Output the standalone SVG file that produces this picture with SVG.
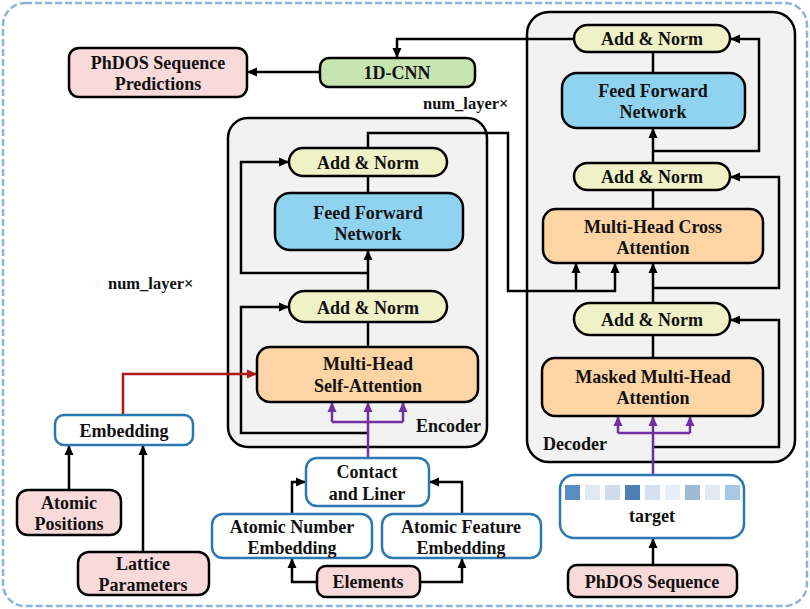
<svg xmlns="http://www.w3.org/2000/svg" width="810" height="609" viewBox="0 0 810 609">
<defs>
<marker id="ab" markerUnits="userSpaceOnUse" markerWidth="10" markerHeight="10" refX="10" refY="5" orient="auto"><path d="M0,0.5 L10,5 L0,9.5 z" fill="#000"/></marker>
<marker id="ap" markerUnits="userSpaceOnUse" markerWidth="10" markerHeight="10" refX="10" refY="5" orient="auto"><path d="M0,0.5 L10,5 L0,9.5 z" fill="#7030a0"/></marker>
<marker id="ar" markerUnits="userSpaceOnUse" markerWidth="10" markerHeight="10" refX="10" refY="5" orient="auto"><path d="M0,0.5 L10,5 L0,9.5 z" fill="#b01818"/></marker>
</defs>
<style>
text{font-family:'Liberation Serif','Times New Roman',serif;font-weight:bold;font-size:18px;fill:#111;text-anchor:middle}
.lbl{text-anchor:start}
.nl{text-anchor:start;font-size:16.5px}
.pink{fill:#f9dada;stroke:#000;stroke-width:2.5}
.green{fill:#c6e5b0;stroke:#000;stroke-width:2.5}
.yel{fill:#eff2c7;stroke:#000;stroke-width:2.5}
.blue{fill:#8fd3f0;stroke:#000;stroke-width:2.5}
.org{fill:#fdd4a4;stroke:#000;stroke-width:2.5}
.emb{fill:#fff;stroke:#2a78b0;stroke-width:2.5}
.cont{fill:#f2f2f2;stroke:#000;stroke-width:2.5}
.c{fill:none;stroke:#000;stroke-width:2.5}
.cp{fill:none;stroke:#7030a0;stroke-width:2.5}
.cr{fill:none;stroke:#b01818;stroke-width:2.5}
</style>
<rect x="3" y="3" width="804" height="603" rx="22" fill="#fff" stroke="#8db3d8" stroke-width="2.5" stroke-dasharray="7,3"/>
<g id="encoder-box"><rect class="cont" x="228" y="118" width="259" height="329" rx="20"/><text class="lbl" x="416" y="432">Encoder</text></g>
<g id="decoder-box"><rect class="cont" x="527" y="12" width="268" height="450" rx="22"/><text class="lbl" x="543" y="450">Decoder</text></g>
<text class="nl" x="423" y="109">num_layer×</text>
<text class="nl" x="108" y="289">num_layer×</text>
<g id="connectors">
<path class="c" d="M320,72 H247" marker-end="url(#ab)"/>
<path class="c" d="M574,39 H397 V58" marker-end="url(#ab)"/>
<path class="c" d="M368,176 V193"/>
<path class="c" d="M368,291 V250" marker-end="url(#ab)"/>
<path class="c" d="M368,273 H241 V162 H289" marker-end="url(#ab)"/>
<path class="c" d="M368,347 V322"/>
<path class="c" d="M368,433 H241 V307 H289" marker-end="url(#ab)"/>
<path class="c" d="M368,148 V133 H508 V291 H615 V263" marker-end="url(#ab)"/>
<path class="c" d="M576,291 V263" marker-end="url(#ab)"/>
<path class="c" d="M653,52 V73"/>
<path class="c" d="M653,163 V128" marker-end="url(#ab)"/>
<path class="c" d="M653,151 H759 V39 H730" marker-end="url(#ab)"/>
<path class="c" d="M653,190 V209"/>
<path class="c" d="M653,303 V263" marker-end="url(#ab)"/>
<path class="c" d="M653,288 H779 V177 H730" marker-end="url(#ab)"/>
<path class="c" d="M653,335 V358"/>
<path class="c" d="M653,447 H779 V320 H730" marker-end="url(#ab)"/>
<path class="cp" d="M653,475 V433"/>
<path class="cp" d="M618,433 H690"/>
<path class="cp" d="M618,433 V416" marker-end="url(#ap)"/>
<path class="cp" d="M653,433 V416" marker-end="url(#ap)"/>
<path class="cp" d="M690,433 V416" marker-end="url(#ap)"/>
<path class="cp" d="M368,458 V422"/>
<path class="cp" d="M332,422 H403"/>
<path class="cp" d="M332,422 V402" marker-end="url(#ap)"/>
<path class="cp" d="M368,422 V402" marker-end="url(#ap)"/>
<path class="cp" d="M403,422 V402" marker-end="url(#ap)"/>
<path class="cr" d="M123,415 V374 H257" marker-end="url(#ar)"/>
<path class="c" d="M69,490 V445" marker-end="url(#ab)"/>
<path class="c" d="M143,552 V445" marker-end="url(#ab)"/>
<path class="c" d="M292,514 V482 H306" marker-end="url(#ab)"/>
<path class="c" d="M462,514 V482 H429" marker-end="url(#ab)"/>
<path class="c" d="M317,582 H292 V558" marker-end="url(#ab)"/>
<path class="c" d="M420,582 H462 V558" marker-end="url(#ab)"/>
<path class="c" d="M653,565 V538" marker-end="url(#ab)"/>
</g>
<g id="predictions"><rect class="pink" x="69" y="48" width="178" height="49" rx="10"/><text x="158" y="69">PhDOS Sequence</text><text x="158" y="90">Predictions</text></g>
<g id="cnn"><rect class="green" x="320" y="58" width="155" height="29" rx="9"/><text x="397" y="79">1D-CNN</text></g>
<g id="enc-addnorm2"><rect class="yel" x="289" y="148" width="158" height="28" rx="14"/><text x="368" y="169">Add &amp; Norm</text></g>
<g id="enc-ffn"><rect class="blue" x="275" y="193" width="188" height="57" rx="15"/><text x="368" y="219">Feed Forward</text><text x="368" y="240">Network</text></g>
<g id="enc-addnorm1"><rect class="yel" x="289" y="291" width="158" height="31" rx="15.5"/><text x="368" y="314">Add &amp; Norm</text></g>
<g id="enc-mhsa"><rect class="org" x="257" y="347" width="221" height="55" rx="13"/><text x="368" y="370">Multi-Head</text><text x="368" y="392">Self-Attention</text></g>
<g id="dec-addnorm3"><rect class="yel" x="574" y="25" width="156" height="27" rx="13.5"/><text x="652" y="45">Add &amp; Norm</text></g>
<g id="dec-ffn"><rect class="blue" x="562" y="73" width="183" height="55" rx="15"/><text x="653" y="97">Feed Forward</text><text x="653" y="118">Network</text></g>
<g id="dec-addnorm2"><rect class="yel" x="574" y="163" width="156" height="27" rx="13.5"/><text x="652" y="183">Add &amp; Norm</text></g>
<g id="dec-cross"><rect class="org" x="543" y="209" width="220" height="54" rx="13"/><text x="653" y="233">Multi-Head Cross</text><text x="653" y="254">Attention</text></g>
<g id="dec-addnorm1"><rect class="yel" x="574" y="303" width="156" height="32" rx="16"/><text x="652" y="326">Add &amp; Norm</text></g>
<g id="dec-masked"><rect class="org" x="542" y="358" width="221" height="58" rx="13"/><text x="653" y="383">Masked Multi-Head</text><text x="653" y="404">Attention</text></g>
<g id="embedding"><rect class="emb" x="55" y="415" width="138" height="30" rx="9"/><text x="124" y="437">Embedding</text></g>
<g id="atomic-positions"><rect class="pink" x="17" y="490" width="104" height="45" rx="11"/><text x="69" y="509">Atomic</text><text x="69" y="530">Positions</text></g>
<g id="lattice"><rect class="pink" x="78" y="552" width="131" height="43" rx="11"/><text x="143" y="570">Lattice</text><text x="143" y="591">Parameters</text></g>
<g id="contact"><rect class="emb" x="306" y="458" width="123" height="48" rx="11"/><text x="367" y="478">Contact</text><text x="367" y="500">and Liner</text></g>
<g id="atomic-number"><rect class="emb" x="212" y="514" width="160" height="44" rx="11"/><text x="292" y="533">Atomic Number</text><text x="292" y="554">Embedding</text></g>
<g id="atomic-feature"><rect class="emb" x="382" y="514" width="159" height="44" rx="11"/><text x="461" y="533">Atomic Feature</text><text x="461" y="554">Embedding</text></g>
<g id="elements"><rect class="pink" x="317" y="566" width="103" height="31" rx="9"/><text x="368" y="588">Elements</text></g>
<g id="target"><rect class="emb" x="560" y="475" width="184" height="63" rx="14"/>
<rect x="565" y="485" width="15" height="15" fill="#5b8ec0"/><rect x="585" y="485" width="15" height="15" fill="#e0e8f2"/><rect x="605" y="485" width="15" height="15" fill="#d0dcea"/><rect x="625" y="485" width="15" height="15" fill="#4e80b4"/><rect x="645" y="485" width="15" height="15" fill="#d4e0ee"/><rect x="665" y="485" width="15" height="15" fill="#e8eef6"/><rect x="685" y="485" width="15" height="15" fill="#9fb8d4"/><rect x="705" y="485" width="15" height="15" fill="#e2e9f2"/><rect x="725" y="485" width="15" height="15" fill="#a8c8e8"/>
<text x="652" y="522">target</text></g>
<g id="phdos-seq"><rect class="pink" x="568" y="565" width="169" height="32" rx="9"/><text x="652" y="588">PhDOS Sequence</text></g>
</svg>
